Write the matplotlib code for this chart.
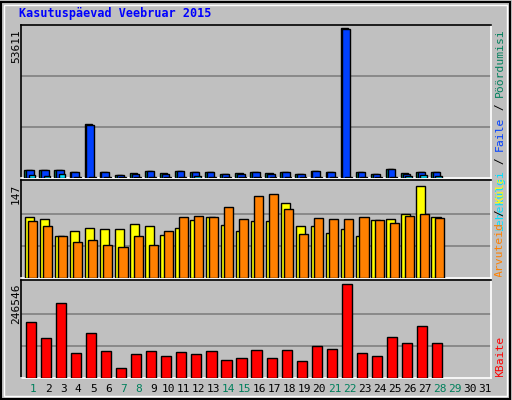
import numpy as np
import matplotlib
matplotlib.use('Agg')
import matplotlib.pyplot as plt
from matplotlib.patches import Rectangle
from matplotlib.transforms import Bbox

# andmed loetud pildilt (veebruar 2015)
days = np.arange(1, 29)
hits = [2900, 2900, 2900, 2200, 19300, 2200, 1100, 1800, 2550, 1800, 2550, 2200, 2200, 1450,
        1800, 2200, 1800, 2200, 1450, 2550, 2200, 53611, 2200, 1450, 3300, 1800, 2200, 2200]
files = [2700, 2700, 2700, 2000, 19100, 2000, 900, 1600, 2350, 1600, 2350, 2000, 2000, 1300,
         1600, 2000, 1600, 2000, 1300, 2350, 2000, 53400, 2000, 1300, 3100, 1600, 2000, 2000]
pages = [1100, 700, 1450, 350, 350, 350, 300, 350, 350, 350, 350, 700, 350, 350,
         350, 350, 350, 350, 350, 350, 350, 350, 350, 350, 350, 700, 1100, 700]
visits = [97, 94, 67, 75, 80, 78, 78, 86, 83, 69, 80, 93, 97, 85,
          74, 90, 90, 120, 82, 83, 72, 78, 66, 92, 94, 102, 147, 97]
sites = [91, 83, 66, 58, 61, 53, 50, 66, 52, 75, 97, 99, 97, 113,
         94, 131, 133, 110, 70, 95, 94, 94, 97, 93, 88, 99, 102, 95]
kbytes = [147000, 104000, 197000, 65000, 119000, 71000, 25000, 63000, 71000, 57000, 68000, 63000, 71000, 46000,
          52000, 73000, 52000, 73000, 44000, 84000, 76000, 246546, 65000, 57000, 108000, 92000, 135000, 92000]
weekend = [1, 7, 8, 14, 15, 21, 22, 28, 29]

BG = '#C0C0C0'
W, H = 512, 400
fig = plt.figure(figsize=(W / 100, H / 100), dpi=100, facecolor=BG)
mono = 'DejaVu Sans Mono'


def ax_at(x0, y0, x1, y1):
    ax = fig.add_axes([x0 / W, 1 - y1 / H, (x1 - x0) / W, (y1 - y0) / H])
    ax.set_facecolor(BG)
    ax.set_xlim(0.2, 31.4)
    ax.set_xticks([])
    ax.set_yticks([])
    for s in ['top', 'left']:
        ax.spines[s].set_color('black')
    for s in ['bottom', 'right']:
        ax.spines[s].set_color('white')
    for s in ax.spines.values():
        s.set_linewidth(1.2)
    return ax


def bars(ax, x, h, w, color):
    ax.bar(x, h, width=w, align='edge', color=color, edgecolor='black', linewidth=1, zorder=3)


def grid(ax, ymax):
    for f in (1 / 3, 2 / 3):
        ax.axhline(ymax * f, color='#808080', lw=1.2, zorder=1)


# ylemine paneel
ax1 = ax_at(21, 25, 491, 178)
ax1.set_ylim(0, 53611 * 1.02)
grid(ax1, 53611 * 1.02)
bars(ax1, days - 0.58, hits, 0.5, '#00805C')
bars(ax1, days - 0.46, files, 0.5, '#0040FF')
bars(ax1, days - 0.3, pages, 0.45, '#00E0FF')

# keskmine paneel
ax2 = ax_at(21, 180, 491, 278)
ax2.set_ylim(0, 147 * 1.06)
grid(ax2, 147 * 1.06 * 0.98)
bars(ax2, days - 0.55, visits, 0.6, '#FFFF00')
bars(ax2, days - 0.33, sites, 0.6, '#FF8000')

# alumine paneel
ax3 = ax_at(21, 280, 491, 378)
ax3.set_ylim(0, 246546 * 1.04)
grid(ax3, 246546 * 1.04 * 0.98)
bars(ax3, days - 0.5, kbytes, 0.68, '#FF0000')

# pealkiri
fig.text(19 / W, 1 - 14 / H, 'Kasutuspäevad Veebruar 2015', family=mono, weight='bold',
         color='#0000FF', fontsize=8.5, va='center')

# y-telje maksimumid
for y, lab in [(29, '53611'), (184, '147'), (284, '246546')]:
    fig.text(16 / W, 1 - y / H, lab, family=mono, fontsize=8, rotation=90,
             ha='center', va='top')

# päevade sildid
for d in range(1, 32):
    xp = 33 + (d - 1) * 15.07
    fig.text(xp / W, 1 - 389 / H, str(d), family=mono, fontsize=8,
             color='#00805C' if d in weekend else 'black', ha='center', va='center')


# parempoolsed legendid, lõigatud paneeli kõrgusele
def legend(y_bottom, y_top, parts):
    clip = Bbox([[492, H - y_bottom], [512, H - y_top]])
    y = y_bottom
    for txt, col in parts:
        t = fig.text(500 / W, 1 - y / H, txt, family=mono, fontsize=8.2, color=col,
                     rotation=90, rotation_mode='anchor', ha='left', va='center')
        t.set_clip_box(clip)
        t.set_clip_on(True)
        y -= len(txt) * 6.7


legend(231, 25, 178, [('Lehekülgi', '#00E0FF'), (' / ', 'black'), ('Faile', '#0040FF'),
                      (' / ', 'black'), ('Pöördumisi', '#00805C')]) if False else None
legend(231, 25, [('Lehekülgi', '#00E0FF'), (' / ', 'black'), ('Faile', '#0040FF'),
                 (' / ', 'black'), ('Pöördumisi', '#00805C')])
legend(277, 180, [('Arvuteid', '#FF8000'), (' / ', 'black'), ('Külastusi', '#FFFF00')])
legend(377, 280, [('KBaite', '#FF0000')])

# välimine raam
fig.add_artist(Rectangle((1 / W, 1 / H), (W - 3) / W, (H - 3) / H, transform=fig.transFigure,
                         fill=False, edgecolor='black', lw=1.5))
fig.add_artist(Rectangle((4 / W, 4 / H), (W - 9) / W, (H - 9) / H, transform=fig.transFigure,
                         fill=False, edgecolor='white', lw=1))

fig.savefig('out.png', dpi=100, facecolor=BG)
